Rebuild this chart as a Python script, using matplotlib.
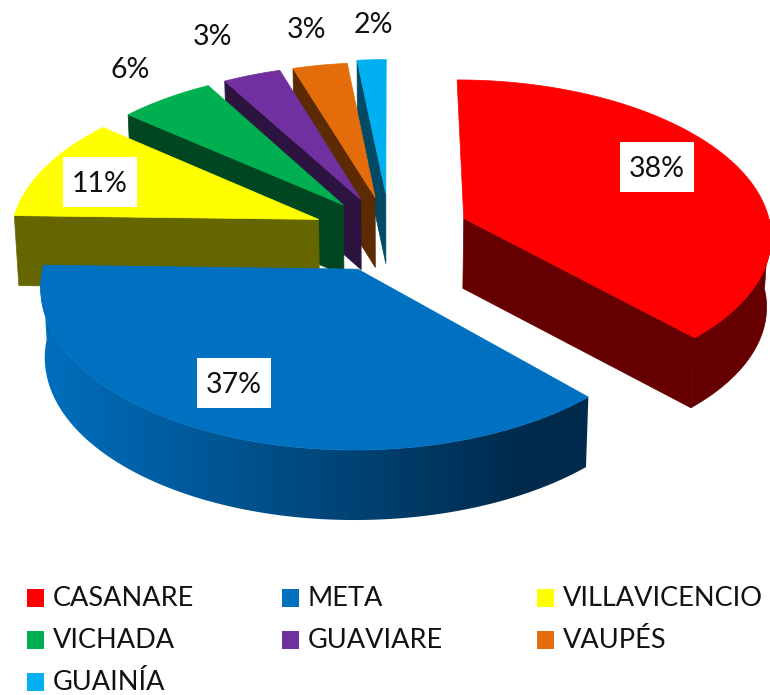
import numpy as np
import matplotlib
matplotlib.use('Agg')
import matplotlib.pyplot as plt
from matplotlib.patches import Polygon, Rectangle
from matplotlib.colors import LinearSegmentedColormap

# data, labels show the rounded values
departments = ['CASANARE', 'META', 'VILLAVICENCIO', 'VICHADA', 'GUAVIARE', 'VAUPÉS', 'GUAINÍA']
shares = [38.0, 37.4, 10.7, 5.6, 3.4, 3.2, 1.7]

# look of the slices
top_colors = ['#FF0000', '#0070C0', '#FFFF00', '#00B050', '#7030A0', '#E46C0A', '#00B0F0']
side_colors = ['#660000', '#002B4D', '#666600', '#004620', '#2D1340', '#5C2B04', '#004A66']
explode = [0.26, 0.25, 0.25, 0.24, 0.24, 0.24, 0.26]

# label centres in pixels, box or not
label_pos = [(657, 169), (234, 385), (100, 184), (130, 70), (213, 37), (306, 30), (373, 25)]
label_box = [True, True, True, False, False, False, False]

CX, CY = 390, 233
A, B = 308, 155
K = 0.10
DEPTH = 70
SHRINK = 0.988

plt.rcParams['font.family'] = ['Lato', 'DejaVu Sans']

rim_cmap = LinearSegmentedColormap.from_list('rim', ['#006EBC', '#002B4D'])


def project(x, y):
    s = 1 / (1 + K * y)
    return CX + A * x * s, CY - B * y * s


def lower(px, py):
    return CX + (px - CX) * SHRINK, py + DEPTH


def face(ax, a, b, color, z):
    # vertical quad below the top edge a-b
    pts = [a, b, lower(*b), lower(*a)]
    ax.add_patch(Polygon(pts, closed=True, fc=color, ec=color, lw=0.5, zorder=z))


def draw_rim(ax, edge, side, z, shaded):
    # outer wall, only the part facing the viewer
    if len(edge) < 2:
        return
    pts = edge + [lower(*p) for p in edge[::-1]]
    if not shaded:
        ax.add_patch(Polygon(pts, closed=True, fc=side, ec=side, lw=0.5, zorder=z))
        return
    clip = Polygon(pts, closed=True, fc='none', ec='none', transform=ax.transData)
    ax.add_patch(clip)
    ramp = np.clip(np.linspace(-0.04, 1.15, 256), 0, 1).reshape(1, -1)
    im = ax.imshow(ramp, cmap=rim_cmap, vmin=0, vmax=1, aspect='auto',
                   extent=(30, 590, 530, 260), zorder=z, interpolation='bilinear')
    im.set_clip_path(clip)


def draw_slice(ax, start, end, bump, top, side, z, shaded=False):
    mid = (start + end) / 2
    ex, ey = bump * np.sin(mid), bump * np.cos(mid)
    ts = np.linspace(start, end, 160)
    edge = [project(ex + np.sin(t), ey + np.cos(t)) for t in ts]
    apex = project(ex, ey)

    if np.sin(start) < 0:
        face(ax, apex, edge[0], side, z)
    if np.sin(end) > 0:
        face(ax, apex, edge[-1], side, z)
    front = [p for p, t in zip(edge, ts) if np.cos(t) < 0]
    draw_rim(ax, front, side, z, shaded)

    ax.add_patch(Polygon([apex] + edge, closed=True, fc=top, ec=top, lw=0.5, zorder=z + 0.5))


fig = plt.figure(figsize=(7.7, 6.95), dpi=100)
ax = fig.add_axes([0, 0, 1, 1])

fracs = np.array(shares) / sum(shares)
bounds = np.concatenate([[0], np.cumsum(fracs)]) * 2 * np.pi

# back slices first, meta last so it covers the olive side of villavicencio
order = [6, 5, 4, 3, 2, 0, 1]
for z, i in enumerate(order):
    draw_slice(ax, bounds[i], bounds[i + 1], explode[i], top_colors[i], side_colors[i], z + 1,
               shaded=(i == 1))

for share, (lx, ly), boxed in zip(shares, label_pos, label_box):
    if boxed:
        ax.add_patch(Rectangle((lx - 37, ly - 27), 74, 50, fc='white', ec='none', zorder=20))
    ax.text(lx, ly, f'{round(share)}%', fontsize=20.5, color='#111111', ha='center', va='center', zorder=21)

# legend, three columns
col_x = [27, 282, 537]
row_y = [598, 640, 682]
for i, name in enumerate(departments):
    lx = col_x[i % 3]
    ly = row_y[i // 3]
    ax.add_patch(Rectangle((lx, ly - 9), 17, 18, fc=top_colors[i], ec='none', zorder=20))
    ax.text(lx + 26, ly, name, fontsize=19.5, color='#111111', ha='left', va='center', zorder=21)

ax.set_xlim(0, 770)
ax.set_ylim(695, 0)
ax.axis('off')

fig.savefig('out.png', dpi=100)
plt.close(fig)
